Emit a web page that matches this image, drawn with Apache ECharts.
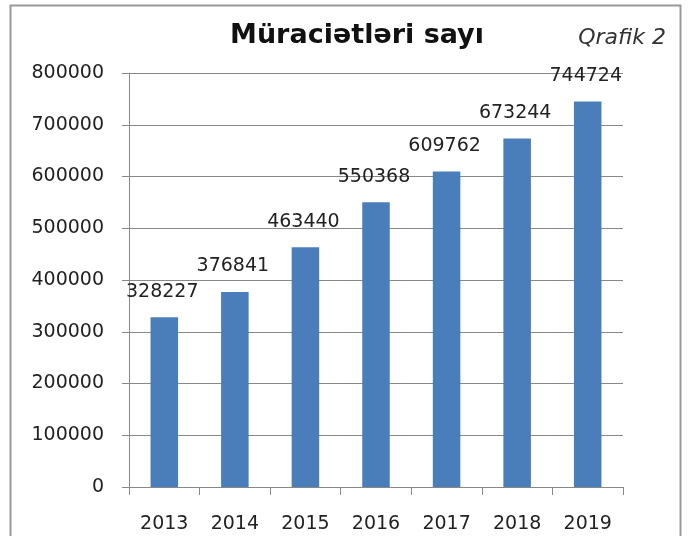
<!DOCTYPE html>
<html lang="az" style="height: 100%">
<head>
  <meta charset="utf-8">
</head>
<body style="height: 100%; margin: 0; background: #fff">
  <div id="container" style="width: 688px; height: 536px"></div>
  <script type="text/javascript" src="https://fastly.jsdelivr.net/npm/echarts@6.0.0/dist/echarts.min.js"></script>
  <script type="text/javascript">
    var years = ['2013', '2014', '2015', '2016', '2017', '2018', '2019'];
    var requests = [328227, 376841, 463440, 550368, 609762, 673244, 744724];
    var yTicks = [0, 100000, 200000, 300000, 400000, 500000, 600000, 700000, 800000];

    var dom = document.getElementById('container');
    var myChart = echarts.init(dom, null, { renderer: 'canvas' });

    var labelFont = { fontFamily: 'DejaVu Sans', fontSize: 19, color: '#222' };

    var option = {
      animation: false,
      backgroundColor: '#fff',
      title: [
        {
          text: 'Müraciətləri sayı',
          left: 352,
          top: 17,
          textAlign: 'center',
          textStyle: { fontFamily: 'DejaVu Sans', fontSize: 27, fontWeight: 'bold', color: '#111' }
        },
        {
          text: 'Qrafik 2',
          right: 17,
          top: 22,
          textStyle: { fontFamily: 'DejaVu Sans', fontSize: 22, fontStyle: 'italic', fontWeight: 'normal', color: '#333' }
        }
      ],
      graphic: [{
        type: 'rect',
        shape: { x: 10.5, y: 5.5, width: 670, height: 540 },
        style: { fill: 'none', stroke: '#999', lineWidth: 2 },
        silent: true
      }],
      grid: { left: 129, right: 65, top: 73, bottom: 49 },
      xAxis: {
        type: 'category',
        data: years,
        axisLine: { lineStyle: { color: '#888' } },
        axisTick: { show: true, alignWithLabel: false, length: 8, lineStyle: { color: '#888' } },
        axisLabel: Object.assign({ margin: 28 }, labelFont)
      },
      yAxis: {
        type: 'value',
        min: yTicks[0],
        max: yTicks[yTicks.length - 1],
        interval: yTicks[1] - yTicks[0],
        axisLine: { show: true, lineStyle: { color: '#888' } },
        axisTick: { show: true, length: 7, lineStyle: { color: '#888' } },
        splitLine: { lineStyle: { color: '#888', width: 1 } },
        axisLabel: Object.assign({
          margin: 25,
          formatter: function (v) { return String(v); }
        }, labelFont)
      },
      series: [{
        type: 'bar',
        barWidth: '39%',
        itemStyle: { color: '#4a7ebb' },
        data: requests,
        label: Object.assign({
          show: true,
          position: 'top',
          distance: 16,
          offset: [-2, 0]
        }, labelFont)
      }]
    };

    myChart.setOption(option);
    window.addEventListener('resize', myChart.resize);
  </script>
</body>
</html>
